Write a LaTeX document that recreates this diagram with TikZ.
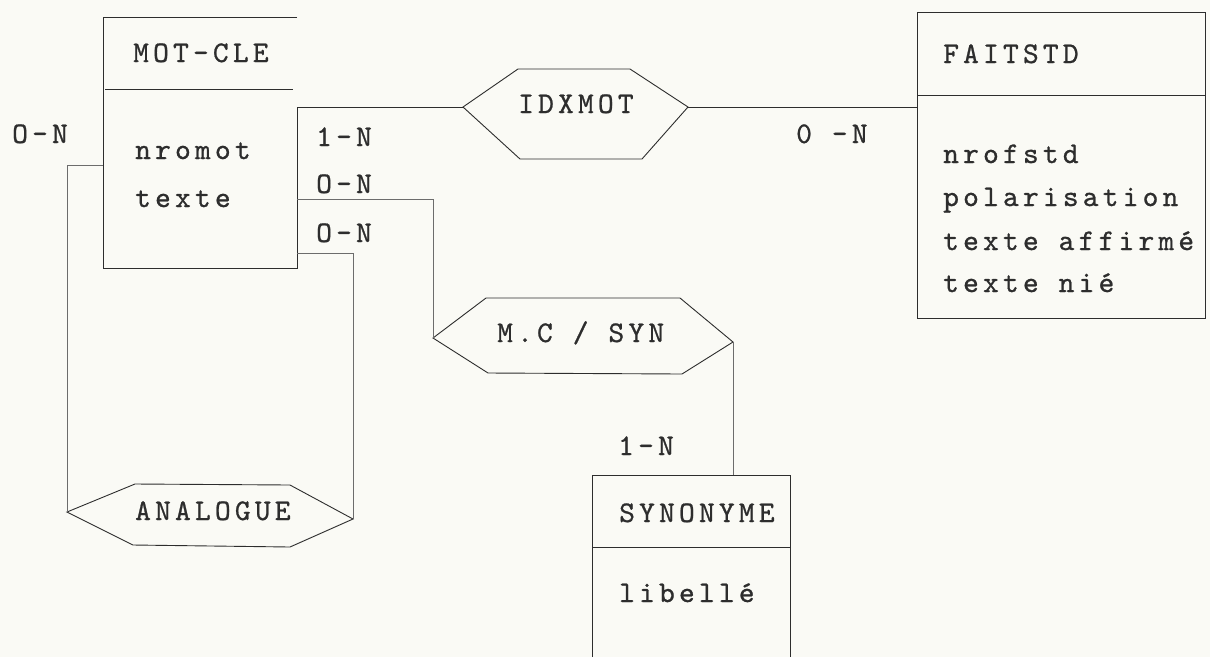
\documentclass[tikz,border=0pt]{standalone}
\usepackage{fontspec}
\newfontfamily\tw{lmmono10-regular.otf}[LetterSpace=14,FakeBold=0.8]
\definecolor{paper}{RGB}{250,250,245}
\definecolor{ink}{RGB}{45,45,45}
\tikzset{
  ln/.style={line width=0.9pt, draw=ink},
  thin/.style={line width=0.6pt, draw=ink!70},
  txt/.style={font=\tw\fontsize{30}{34}\selectfont, inner sep=0pt, anchor=base west, text=ink},
}
\begin{document}
\begin{tikzpicture}[x=1pt,y=-1pt]
\useasboundingbox (0,0) rectangle (1210,657);
\fill[paper] (0,0) rectangle (1210,657);

% ---------- entity MOT-CLE ----------
\draw[ln] (297,17) -- (103,17) -- (103,268) -- (297,268) -- (297,107);
\draw[ln] (105,89) -- (293,89);
\node[txt] (mct) at (133,62) {MOT-CLE};
\node[txt] (mca1) at (135,159) {nromot};
\node[txt] (mca2) at (135,207) {texte};
\coordinate (mcR1) at (297,107);
\coordinate (mcR2) at (297,199);
\coordinate (mcR3) at (297,253);
\coordinate (mcL) at (103,165);

% ---------- entity FAITSTD ----------
\draw[ln] (917,12) rectangle (1205,318);
\draw[ln] (917,95) -- (1205,95);
\node[txt] (fst) at (943,63) {FAITSTD};
\node[txt] (fsa1) at (943,163) {nrofstd};
\node[txt] (fsa2) at (943,206) {polarisation};
\node[txt] (fsa3) at (943,250) {texte affirmé};
\node[txt] (fsa4) at (943,292) {texte nié};
\coordinate (fsL) at (917,107);

% ---------- entity SYNONYME ----------
\draw[ln] (592,657) -- (592,475) -- (790,475) -- (790,657);
\draw[ln] (592,547) -- (790,547);
\node[txt] (syt) at (619,522) {SYNONYME};
\node[txt] (sya1) at (619,602) {libellé};
\coordinate (synT) at (733,475);

% ---------- relation IDXMOT ----------
\coordinate (idxL) at (463,107);
\coordinate (idxR) at (688,107);
\draw[ln] (idxL) -- (518,69) -- (630,69) -- (idxR) -- (642,159) -- (520,159) -- cycle;
\node[txt] (idx) at (518,113) {IDXMOT};

% ---------- relation ANALOGUE ----------
\coordinate (anL) at (67,512);
\coordinate (anR) at (353,519);
\draw[ln] (anL) -- (135,484) -- (290,485) -- (anR) -- (290,547) -- (133,545) -- cycle;
\node[txt] (an) at (135,520) {ANALOGUE};

% ---------- relation M.C / SYN ----------
\coordinate (msL) at (433,338);
\coordinate (msR) at (733,342);
\draw[ln] (msL) -- (486,298) -- (680,298) -- (msR) -- (682,374) -- (488,373) -- cycle;
\node[txt] (ms) at (497,342) {M.C / SYN};

% ---------- connectors ----------
\draw[ln] (mcR1) -- (idxL);
\draw[ln] (idxR) -- (fsL);
\draw[thin] (mcR2) -| (msL);
\draw[thin] (mcR3) -| (anR);
\draw[thin] (mcL) -| (anL);
\draw[thin] (msR) -- (synT);

% ---------- cardinalities ----------
\node[txt] (c1) at (12,143) {O-N};
\node[txt] (c2) at (316,146) {1-N};
\node[txt] (c3) at (316,193) {O-N};
\node[txt] (c4) at (316,242) {O-N};
\node[txt] (c5) at (796,143) {0 -N};
\node[txt] (c6) at (618,455) {1-N};
\end{tikzpicture}
\end{document}
